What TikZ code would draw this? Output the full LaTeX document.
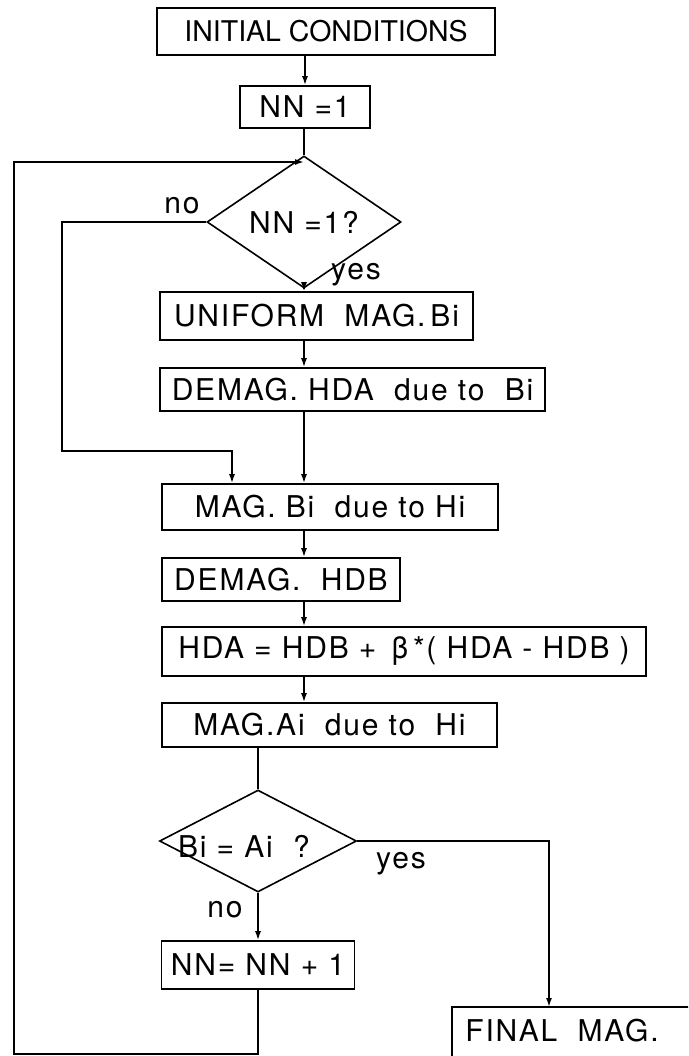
\documentclass[tikz,border=0pt]{standalone}
\usepackage{fontspec}
\setmainfont{TeX Gyre Heros}[LetterSpace=6]
\usetikzlibrary{arrows.meta,shapes.geometric,calc}
\begin{document}
\begin{tikzpicture}[x=1pt,y=-1pt,line width=1.6pt,
  every node/.style={font=\fontsize{30}{34}\selectfont},
  box/.style={draw,rectangle,inner sep=0pt},
  dia/.style={draw,diamond,inner sep=0pt},
  lbl/.style={inner sep=0pt},
  arr/.style={-{Latex[length=9pt,width=6pt]}}]
\clip (0,0) rectangle (688,1056);
% boxes
\node[box,minimum width=338pt,minimum height=47pt,font=\fontsize{28.5}{32}\selectfont\addfontfeature{LetterSpace=0}] (init) at (326,31.5) {INITIAL CONDITIONS};
\node[box,minimum width=130pt,minimum height=42pt] (nn1) at (305,107) {NN =1};
\node[dia,minimum width=194pt,minimum height=86pt] (d1) at (304,222) {NN =1?};
\node[box,minimum width=313pt,minimum height=48pt] (unif) at (316.5,316) {UNIFORM\ \ MAG.\,Bi};
\node[box,minimum width=385pt,minimum height=43pt] (dha) at (352.5,389.5) {DEMAG.\ HDA\ \ due to\ \ Bi};
\node[box,minimum width=336pt,minimum height=46pt] (magb) at (330,507) {MAG.\ Bi\ \ due to Hi};
\node[box,minimum width=238pt,minimum height=43pt] (hdb) at (281,579.5) {DEMAG.\ \ HDB};
\node[box,minimum width=484pt,minimum height=49pt] (hda) at (404,651.5) {HDA = HDB + \,β\,*( HDA - HDB )};
\node[box,minimum width=335pt,minimum height=44pt] (maga) at (329.5,725) {MAG.Ai\ \ due to\ \ Hi};
\node[dia,minimum width=197pt,minimum height=102pt] (d2) at (258,841) {};
\node[lbl] (d2t) at (244,846) {Bi = Ai\ \ ?};
\node[box,minimum width=193pt,minimum height=48pt] (nnp) at (258,965) {NN= NN + 1};
\node[box,minimum width=268pt,minimum height=68pt] (final) at (586,1041) {};
\node[lbl] (fint) at (562,1031) {FINAL\ \ MAG.};
% labels
\node[lbl] (no1) at (182,206) {no};
\node[lbl] (yes1) at (356,275) {yes};
\node[lbl] (no2) at (225,910) {no};
\node[lbl] (yes2) at (401,864) {yes};
% coordinates
\coordinate (J) at (304,162);
\coordinate (bl) at (14,1054);
\coordinate (n1) at (62,451);
\coordinate (n2) at (232,451);
\coordinate (fy) at (549,1007);
% connectors
\draw[arr] (init.south -| nn1.north) -- (nn1.north);
\draw (nn1.south -| d1.north) -- (d1.north);
\draw[arr] (nnp.south) |- (bl) |- (J);
\draw[arr] (d1.west) -| (n1) -- (n2) -- (n2 |- magb.north);
\draw[arr] (d1.south) -- (d1.south |- unif.north);
\draw[arr] (unif.south -| J) -- (dha.north -| J);
\draw[arr] (dha.south -| J) -- (magb.north -| J);
\draw[arr] (magb.south -| J) -- (hdb.north -| J);
\draw[arr] (hdb.south -| J) -- (hda.north -| J);
\draw[arr] (hda.south -| J) -- (maga.north -| J);
\draw (maga.south -| d2.north) -- (d2.north);
\draw[arr] (d2.south) -- (nnp.north);
\draw[arr] (d2.east) -| (fy);
\end{tikzpicture}
\end{document}
